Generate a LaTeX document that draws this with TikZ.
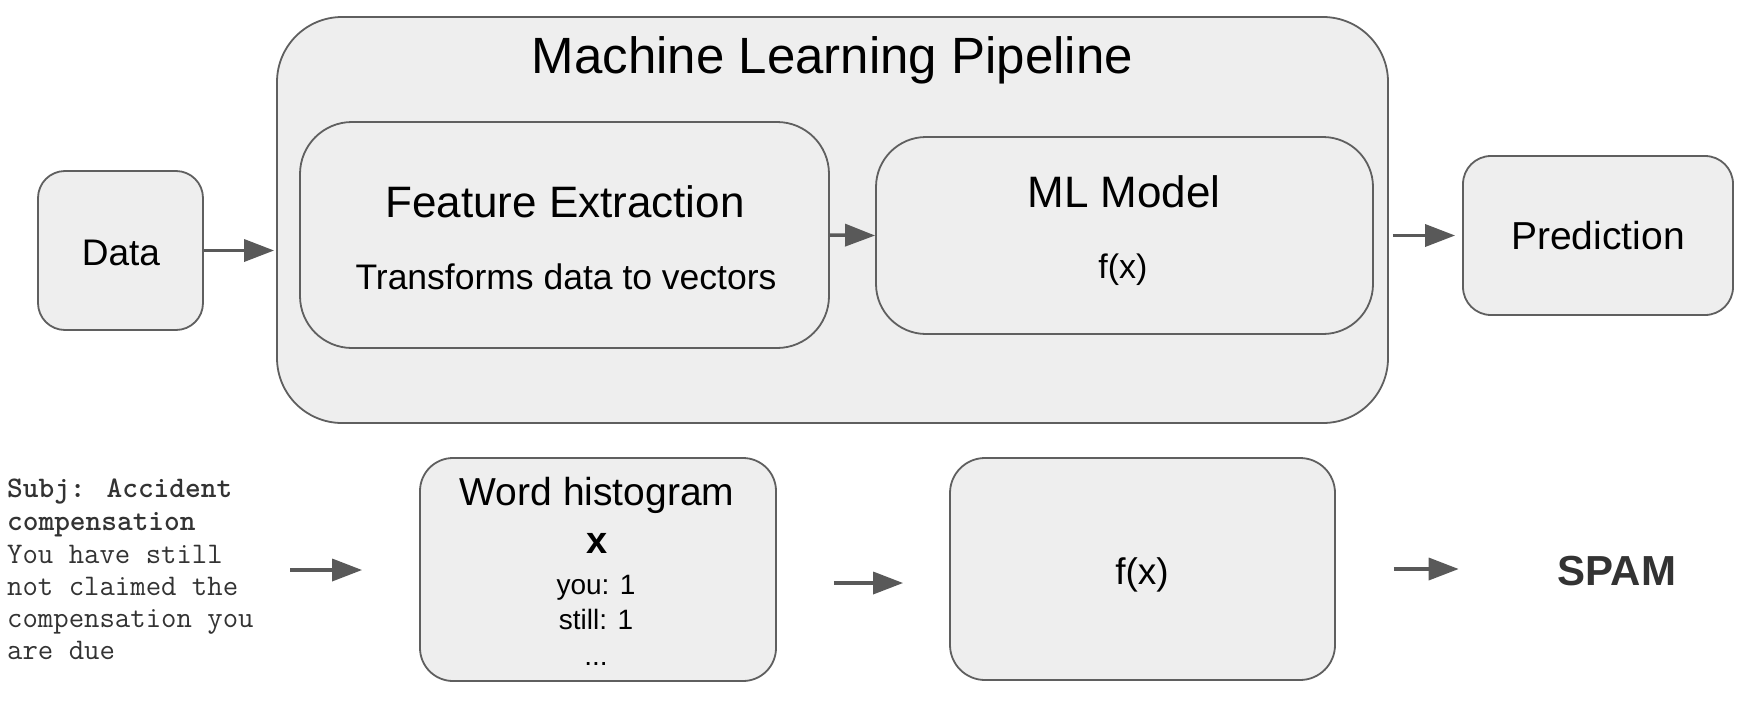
\documentclass[tikz,border=0pt]{standalone}
\usepackage{fontspec}
\setmainfont{Liberation Sans}
\usetikzlibrary{arrows.meta}
\definecolor{boxfill}{HTML}{EEEEEE}
\definecolor{boxline}{HTML}{5F5F5F}
\definecolor{arrowcol}{HTML}{595959}
\definecolor{darktext}{HTML}{333333}
\tikzset{
  box/.style={draw=boxline, fill=boxfill, line width=1.8pt, inner sep=0pt},
  lbl/.style={inner sep=0pt, anchor=base},
  mono/.style={inner sep=0pt, anchor=base west, text=darktext, font=\ttfamily\fontsize{29.9}{32}\selectfont},
  monob/.style={mono, font=\ttfamily\bfseries\fontsize{29.9}{32}\selectfont},
  arr/.style={draw=arrowcol, line width=3.5pt, -{Triangle[length=30pt,width=22pt]}},
}
\newcommand{\fs}[1]{\fontsize{#1}{#1}\selectfont}
\begin{document}
\begin{tikzpicture}[x=1pt,y=-1pt]
\useasboundingbox (0,0) rectangle (1744,712);
% boxes
\node[box, rounded corners=65pt, minimum width=1111pt, minimum height=406pt] (pipe) at (832.5,220) {};
\node[box, rounded corners=27pt, minimum width=165pt, minimum height=159pt] (data) at (120.5,250.5) {};
\node[box, rounded corners=52pt, minimum width=529pt, minimum height=226pt] (fe) at (564.5,235) {};
\node[box, rounded corners=50pt, minimum width=497pt, minimum height=197pt] (ml) at (1124.5,235.5) {};
\node[box, rounded corners=28pt, minimum width=270pt, minimum height=159pt] (pred) at (1598,235.5) {};
\node[box, rounded corners=33pt, minimum width=356pt, minimum height=223pt] (wh) at (598,569.5) {};
\node[box, rounded corners=35pt, minimum width=385pt, minimum height=222pt] (fx) at (1142.5,569) {};
% texts
\node[lbl, font=\fs{51}] (ttitle) at (832.5,73) {Machine Learning Pipeline};
\node[lbl, font=\fs{37}] (tdata) at (121,265) {Data};
\node[lbl, font=\fs{44}] (tfe) at (565,217) {Feature Extraction};
\node[lbl, font=\fs{35.5}] (tfe2) at (566,289) {Transforms data to vectors};
\node[lbl, font=\fs{44}] (tml) at (1124,207) {ML Model};
\node[lbl, font=\fs{34}] (tml2) at (1123,278) {f(x)};
\node[lbl, font=\fs{39}] (tpred) at (1598,249) {Prediction};
\node[lbl, font=\fs{39}] (twh) at (597,505) {Word histogram};
\node[lbl, font=\bfseries\fs{38}] (twhx) at (597,553) {x};
\node[lbl, font=\fs{28}] (twh1) at (596,594) {you: 1};
\node[lbl, font=\fs{28}] (twh2) at (596,629) {still: 1};
\node[lbl, font=\fs{28}] (twh3) at (596,665) {...};
\node[lbl, font=\fs{37}] (tfx) at (1142,584) {f(x)};
\node[lbl, font=\bfseries\fs{42}, text=darktext] (spam) at (1617,585) {SPAM};
% email
\node[monob] (e1) at (7,497) {Subj: Accident};
\node[monob] (e2) at (7,530) {compensation};
\node[mono] (e3) at (7,563) {You have still};
\node[mono] (e4) at (7,595) {not claimed the};
\node[mono] (e5) at (7,627) {compensation you};
\node[mono] (e6) at (7,659) {are due};
\coordinate (emailout) at (290,570);
% arrows
\draw[arr, shorten >=2pt] (data.east) -- (data.east -| pipe.west);
\draw[arr] (fe.east) -- (ml.west);
\draw[arr, shorten <=4pt, shorten >=7pt] (pred.west -| pipe.east) -- (pred.west);
\draw[arr, shorten >=57pt] (emailout) -- (emailout -| wh.west);
\draw[arr, shorten <=57pt, shorten >=46pt] ([yshift=-13.5pt]wh.east) -- ([yshift=-13.5pt]wh.east -| fx.west);
\draw[arr, shorten <=58pt, shorten >=99pt] (fx.east) -- (fx.east -| spam.west);
\end{tikzpicture}
\end{document}
